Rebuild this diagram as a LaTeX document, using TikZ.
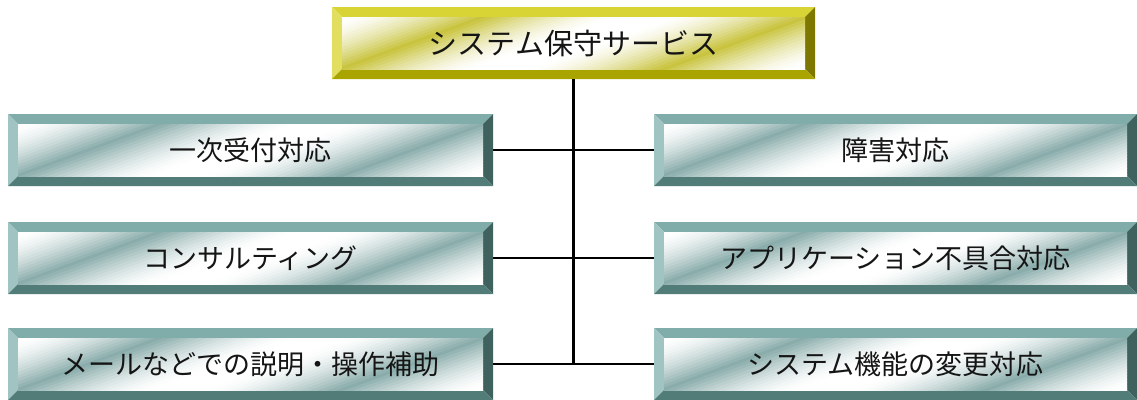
\documentclass[tikz,border=0pt]{standalone}
\usepackage{fontspec}
\newfontfamily\jpfont{Noto Sans CJK JP}
\definecolor{tealtop}{HTML}{80ACA9}
\definecolor{tealleft}{HTML}{A0C4C2}
\definecolor{tealright}{HTML}{3F625F}
\definecolor{tealbottom}{HTML}{527C78}
\definecolor{tealface}{HTML}{88ACAA}
\definecolor{goldtop}{HTML}{D8D435}
\definecolor{goldleft}{HTML}{E2DE60}
\definecolor{goldright}{HTML}{7E7800}
\definecolor{goldbottom}{HTML}{AAA400}
\definecolor{goldface}{HTML}{C8C33C}
\definecolor{txtcol}{HTML}{151515}
\tikzset{
  lbl/.style={font=\jpfont\fontsize{27}{30}\selectfont, text=txtcol, inner sep=0pt},
  bigl/.style={font=\jpfont\fontsize{29}{32}\selectfont},
  conn/.style={line width=2.6pt, black},
}
% #1 name, #2 x1, #3 y1, #4 x2, #5 y2, #6 text, #7 palette, #8 extra label style
\newcommand\bevelbox[8]{%
  \fill[#7top] (#2,#3) -- (#4,#3) -- (#4-10,#3+10) -- (#2+10,#3+10) -- cycle;
  \fill[#7left] (#2,#3) -- (#2+10,#3+10) -- (#2+10,#5-10) -- (#2,#5) -- cycle;
  \fill[#7right] (#4,#3) -- (#4,#5) -- (#4-10,#5-10) -- (#4-10,#3+10) -- cycle;
  \fill[#7bottom] (#2,#5) -- (#2+10,#5-10) -- (#4-10,#5-10) -- (#4,#5) -- cycle;
  \begin{scope}
    \clip (#2+10,#3+10) rectangle (#4-10,#5-10);
    \begin{scope}[shift={({(#2+#4)/2},{(#3+#5)/2})}, rotate=20]
      \foreach \bandi in {-36,...,35} {
        \pgfmathsetmacro\bandq{abs(\bandi*3+1.5)}
        \pgfmathsetmacro\bandt{max(0,1-abs(\bandq-55)/46)}
        \pgfmathsetmacro\bandpc{100*\bandt*sqrt(\bandt)}
        \fill[#7face!\bandpc!white] (-600,\bandi*3) rectangle (600,\bandi*3+3.6);
      }
    \end{scope}
  \end{scope}
  \node[lbl, #8, minimum width={#4pt-#2pt}, minimum height={#5pt-#3pt}] (#1) at ({(#2+#4)/2},{(#3+#5)/2}) {#6};
}
\begin{document}
\begin{tikzpicture}[x=1pt,y=-1pt]
\useasboundingbox (0,0) rectangle (1137,399);
\bevelbox{top}{332}{7}{815}{79}{システム保守サービス}{gold}{bigl}
\bevelbox{l1}{8}{114}{493}{186}{一次受付対応}{teal}{}
\bevelbox{l2}{8}{222}{493}{294}{コンサルティング}{teal}{}
\bevelbox{l3}{8}{328}{493}{400}{メールなどでの説明・操作補助}{teal}{}
\bevelbox{r1}{654}{114}{1137}{186}{障害対応}{teal}{}
\bevelbox{r2}{654}{222}{1137}{294}{アプリケーション不具合対応}{teal}{}
\bevelbox{r3}{654}{328}{1137}{400}{システム機能の変更対応}{teal}{}
\coordinate (trunkend) at (top.south |- l3.east);
\draw[conn] (top.south) -- (trunkend);
\draw[conn] (l1.east) -- (r1.west);
\draw[conn] (l2.east) -- (r2.west);
\draw[conn] (l3.east) -- (r3.west);
\end{tikzpicture}
\end{document}
